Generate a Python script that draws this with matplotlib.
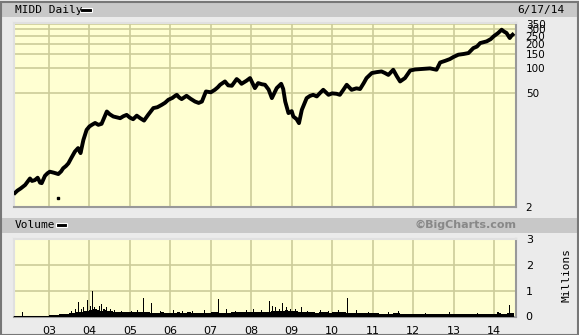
import matplotlib
matplotlib.use("Agg")
import matplotlib.pyplot as plt
from matplotlib.patches import Rectangle
from matplotlib.ticker import FixedLocator, FixedFormatter, NullFormatter, NullLocator

# price (fractional year, close)
price_dates = [2002.16, 2002.22, 2002.30, 2002.41, 2002.47, 2002.53, 2002.58, 2002.65,
               2002.72, 2002.78, 2002.82, 2002.90, 2002.96, 2003.02, 2003.12, 2003.23,
               2003.30, 2003.35, 2003.42, 2003.48, 2003.55, 2003.64, 2003.72, 2003.78,
               2003.85, 2003.93, 2004.00, 2004.06, 2004.14, 2004.22, 2004.30, 2004.43,
               2004.50, 2004.59, 2004.68, 2004.76, 2004.84, 2004.92, 2005.00, 2005.08,
               2005.17, 2005.26, 2005.35, 2005.45, 2005.58, 2005.68, 2005.79, 2005.87,
               2005.95, 2006.05, 2006.12, 2006.16, 2006.22, 2006.28, 2006.40, 2006.50,
               2006.61, 2006.70, 2006.78, 2006.88, 2007.00, 2007.10, 2007.17, 2007.23,
               2007.35, 2007.43, 2007.52, 2007.64, 2007.70, 2007.76, 2007.88, 2007.97,
               2008.03, 2008.09, 2008.17, 2008.26, 2008.34, 2008.43, 2008.51, 2008.57,
               2008.63, 2008.74, 2008.79, 2008.84, 2008.92, 2009.00, 2009.04, 2009.12,
               2009.18, 2009.25, 2009.37, 2009.45, 2009.53, 2009.62, 2009.70, 2009.78,
               2009.91, 2010.00, 2010.11, 2010.19, 2010.28, 2010.36, 2010.48, 2010.60,
               2010.69, 2010.78, 2010.85, 2010.98, 2011.10, 2011.22, 2011.30, 2011.39,
               2011.51, 2011.60, 2011.68, 2011.80, 2011.93, 2012.05, 2012.17, 2012.30,
               2012.42, 2012.58, 2012.67, 2012.80, 2012.91, 2013.00, 2013.12, 2013.25,
               2013.37, 2013.49, 2013.58, 2013.66, 2013.82, 2013.92, 2013.99, 2014.10,
               2014.19, 2014.25, 2014.31, 2014.39, 2014.43, 2014.46]
price_vals = [3.0, 3.2, 3.4, 3.75, 4.1, 4.5, 4.2, 4.3,
              4.6, 4.0, 3.95, 4.85, 5.2, 5.45, 5.3, 5.1,
              5.5, 6.0, 6.4, 6.9, 8.0, 9.6, 10.6, 9.2,
              13.3, 17.7, 19.5, 20.4, 21.5, 20.4, 21.0, 29.7,
              27.5, 25.8, 25.2, 24.6, 26.0, 27.0, 25.0, 23.9,
              26.4, 24.5, 23.0, 27.0, 32.7, 33.5, 35.9, 38.0,
              41.3, 43.5, 46.2, 47.5, 44.0, 42.1, 46.2, 42.5,
              39.3, 37.8, 39.3, 52.2, 51.0, 54.7, 58.5, 63.0,
              69.2, 62.0, 61.3, 74.0, 70.0, 64.8, 70.5, 76.1,
              66.0, 57.4, 66.1, 64.0, 63.0, 55.0, 43.3, 50.0,
              57.4, 64.8, 56.0, 39.3, 28.4, 30.0, 25.8, 24.0,
              21.4, 31.1, 43.3, 46.0, 47.5, 45.4, 50.0, 54.7,
              47.5, 49.5, 48.9, 47.5, 55.0, 63.0, 54.7, 57.0,
              55.9, 66.0, 76.1, 87.7, 90.0, 91.7, 88.0, 83.2,
              96.2, 80.0, 69.2, 76.1, 94.3, 97.0, 98.0, 99.0,
              100.0, 96.2, 118.0, 124.0, 130.0, 138.0, 147.0, 150.0,
              154.0, 177.0, 185.0, 204.0, 214.0, 228.0, 246.0, 270.0,
              297.0, 282.0, 271.0, 235.0, 250.0, 258.0]
bad_tick_date = [2003.23]
bad_tick_val = [2.62]

# volume, monthly baseline in millions (Feb 2002 .. Jun 2014)
vol_2002 = [0.02, 0.02, 0.02, 0.03, 0.02, 0.02, 0.02, 0.02, 0.03, 0.02, 0.02]
vol_2003 = [0.04, 0.04, 0.05, 0.08, 0.09, 0.10, 0.13, 0.15, 0.18, 0.19, 0.20, 0.23]
vol_2004 = [0.26, 0.28, 0.26, 0.23, 0.26, 0.23, 0.21, 0.19, 0.19, 0.18, 0.18, 0.17]
vol_2005 = [0.16, 0.16, 0.17, 0.18, 0.16, 0.16, 0.14, 0.13, 0.14, 0.16, 0.14, 0.13]
vol_2006 = [0.13, 0.14, 0.16, 0.13, 0.13, 0.16, 0.14, 0.13, 0.13, 0.13, 0.13, 0.13]
vol_2007 = [0.16, 0.17, 0.14, 0.13, 0.13, 0.14, 0.16, 0.17, 0.16, 0.16, 0.17, 0.17]
vol_2008 = [0.18, 0.19, 0.18, 0.19, 0.17, 0.18, 0.22, 0.23, 0.21, 0.23, 0.26, 0.22]
vol_2009 = [0.21, 0.22, 0.19, 0.18, 0.17, 0.16, 0.16, 0.14, 0.16, 0.17, 0.16, 0.14]
vol_2010 = [0.18, 0.17, 0.17, 0.16, 0.14, 0.14, 0.13, 0.13, 0.13, 0.12, 0.12, 0.12]
vol_2011 = [0.12, 0.12, 0.10, 0.10, 0.10, 0.10, 0.12, 0.13, 0.10, 0.10, 0.09, 0.09]
vol_2012 = [0.09, 0.09, 0.09, 0.09, 0.09, 0.08, 0.09, 0.09, 0.08, 0.09, 0.09, 0.09]
vol_2013 = [0.08, 0.08, 0.09, 0.09, 0.08, 0.08, 0.09, 0.09, 0.09, 0.10, 0.09, 0.10]
vol_2014 = [0.10, 0.12, 0.10, 0.10, 0.12, 0.13]

# volume spikes (fractional year, millions)
spike_dates = [2002.35, 2003.55, 2003.65, 2003.72, 2003.80, 2003.85, 2003.95, 2004.02,
               2004.07, 2004.12, 2004.18, 2004.24, 2004.30, 2004.36, 2004.41, 2004.51,
               2004.62, 2004.80, 2005.05, 2005.20, 2005.33, 2005.54, 2005.75, 2006.07,
               2006.30, 2006.55, 2006.85, 2007.19, 2007.39, 2007.60, 2007.89, 2008.05,
               2008.25, 2008.46, 2008.52, 2008.59, 2008.70, 2008.78, 2008.86, 2008.96,
               2009.10, 2009.25, 2009.40, 2009.70, 2009.90, 2010.15, 2010.38, 2010.61,
               2010.90, 2011.40, 2011.65, 2012.30, 2012.90, 2013.60, 2014.10, 2014.38]
spike_vals = [0.17, 0.22, 0.28, 0.56, 0.30, 0.36, 0.62, 0.40,
              0.97, 0.35, 0.30, 0.42, 0.47, 0.28, 0.35, 0.30,
              0.25, 0.22, 0.22, 0.25, 0.71, 0.52, 0.22, 0.25,
              0.22, 0.20, 0.24, 0.66, 0.30, 0.22, 0.25, 0.28,
              0.25, 0.60, 0.40, 0.35, 0.30, 0.52, 0.38, 0.30,
              0.28, 0.36, 0.22, 0.25, 0.22, 0.24, 0.71, 0.25,
              0.18, 0.18, 0.22, 0.15, 0.16, 0.15, 0.18, 0.45]

years = list(range(2003, 2015))
year_labels = ["03", "04", "05", "06", "07", "08", "09", "10", "11", "12", "13", "14"]
price_ticks = [350, 300, 250, 200, 150, 100, 50, 2]
vol_ticks = [0, 1, 2, 3]

W, H = 579, 335
fig = plt.figure(figsize=(W / 100, H / 100), dpi=100)
fig.patch.set_facecolor("#ebebeb")

bg = "#ffffd2"
grid_c = "#cccc99"
band_c = "#c8c8c8"

# header bands and frame
fig.patches.append(Rectangle((2 / W, 318 / H), 575 / W, 15 / H, transform=fig.transFigure,
                             facecolor=band_c, edgecolor="none", zorder=0))
fig.patches.append(Rectangle((2 / W, 102 / H), 575 / W, 15 / H, transform=fig.transFigure,
                             facecolor=band_c, edgecolor="none", zorder=0))
fig.patches.append(Rectangle((0.5 / W, 0.5 / H), (W - 2) / W, (H - 2) / H, transform=fig.transFigure,
                             facecolor="none", edgecolor="#777777", linewidth=1.5, zorder=0))

x0, x1 = 2002.135, 2014.545
ax = fig.add_axes([14 / W, 127.7 / H, 502 / W, 184.6 / H])
ax.set_facecolor(bg)
ax.set_yscale("log")
ax.set_xlim(x0, x1)
ax.set_ylim(2, 362)
ax.yaxis.set_major_locator(FixedLocator(price_ticks))
ax.yaxis.set_minor_locator(NullLocator())
ax.yaxis.set_major_formatter(FixedFormatter([str(t) for t in price_ticks]))
ax.yaxis.tick_right()
ax.set_xticks(years)
ax.xaxis.set_major_formatter(NullFormatter())
ax.tick_params(length=0, labelsize=7.5, pad=7)
for v in price_ticks[:-1]:
    ax.axhline(v, color=grid_c, linewidth=1.2, zorder=1)
for yr in years:
    ax.axvline(yr, color=grid_c, linewidth=1.2, zorder=1)
ax.plot(price_dates, price_vals, color="black", linewidth=2.8, zorder=3)
ax.plot(bad_tick_date, bad_tick_val, "s", color="black", markersize=1.5, zorder=3)

vax = fig.add_axes([14 / W, 18.5 / H, 502 / W, 77.5 / H])
vax.set_facecolor(bg)
vax.set_xlim(x0, x1)
vax.set_ylim(0, 3)
vax.yaxis.tick_right()
vax.set_yticks(vol_ticks)
vax.set_xticks(years)
vax.set_xticklabels(year_labels)
vax.tick_params(length=0, labelsize=8, pad=7)
for v in [1, 2]:
    vax.axhline(v, color=grid_c, linewidth=1.2, zorder=1)
for yr in years:
    vax.axvline(yr, color=grid_c, linewidth=1.2, zorder=1)

vol_all = vol_2002 + vol_2003 + vol_2004 + vol_2005 + vol_2006 + vol_2007 + vol_2008 + \
    vol_2009 + vol_2010 + vol_2011 + vol_2012 + vol_2013 + vol_2014
vol_x = [2002 + (i + 1) / 12 for i in range(len(vol_all))]
vax.bar(vol_x, vol_all, width=1 / 12, align="edge", color="black", zorder=3)
vax.bar(spike_dates, spike_vals, width=0.025, color="black", zorder=3)

for a in (ax, vax):
    a.spines["top"].set_color("#e0e0e0")
    a.spines["left"].set_color("#e0e0e0")
    a.spines["bottom"].set_color("#999999")
    a.spines["right"].set_color("#999999")
    for s in a.spines.values():
        s.set_linewidth(1.5)

fig.text(15 / W, 1 - 10 / H, "MIDD Daily", fontsize=8, family="DejaVu Sans Mono", va="center")
fig.patches.append(Rectangle((80 / W, 1 - 12 / H), 12 / W, 4 / H, transform=fig.transFigure,
                             facecolor="black", edgecolor="white", linewidth=0.8))
fig.text(565 / W, 1 - 10 / H, "6/17/14", fontsize=8, family="DejaVu Sans Mono", va="center", ha="right")
fig.text(15 / W, 1 - 225 / H, "Volume", fontsize=8, family="DejaVu Sans Mono", va="center")
fig.patches.append(Rectangle((56 / W, 1 - 227 / H), 11 / W, 4 / H, transform=fig.transFigure,
                             facecolor="black", edgecolor="white", linewidth=0.8))
fig.text(516 / W, 1 - 225 / H, "\u00a9BigCharts.com", fontsize=8, fontweight="bold",
         color="#888888", va="center", ha="right")
fig.text(567 / W, 1 - 275 / H, "Millions", fontsize=8, family="DejaVu Sans Mono",
         rotation=90, va="center", ha="center")

fig.savefig("out.png", dpi=100)
